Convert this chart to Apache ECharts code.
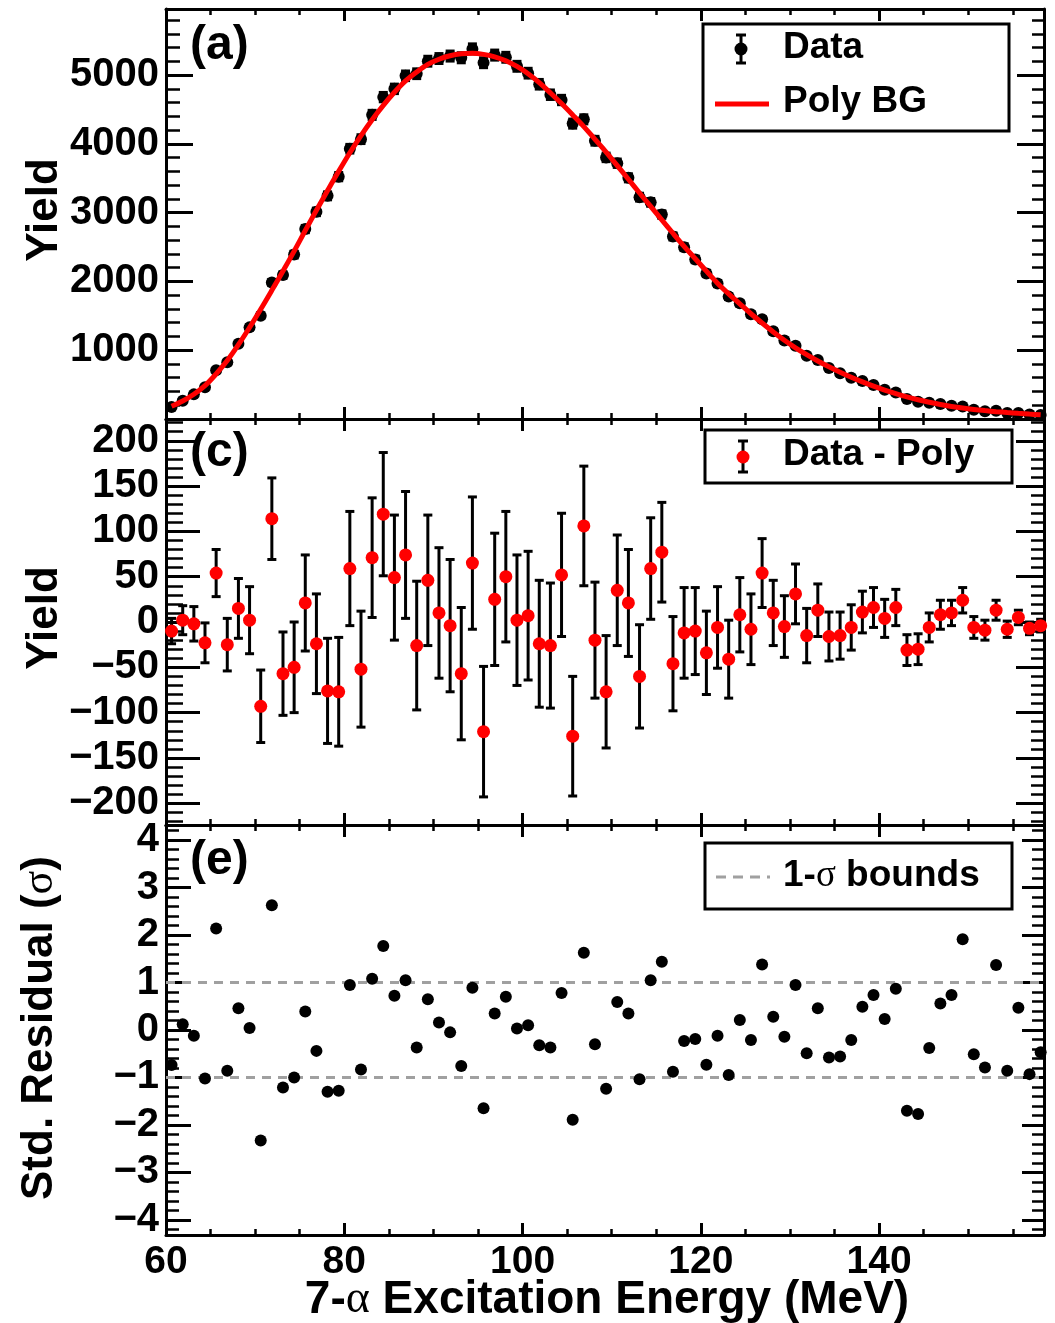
<!DOCTYPE html>
<html>
<head>
<meta charset="utf-8">
<script src="https://cdn.jsdelivr.net/npm/echarts@6/dist/echarts.min.js"></script>
<style>
  html, body { margin: 0; padding: 0; background: #fff; }
  #chart { width: 1055px; height: 1323px; }
</style>
</head>
<body>
<div id="chart"></div>
<script>
// Bin centres of the 7-alpha excitation-energy spectrum (MeV), 1.25 MeV bins
const energy = [
  60.625, 61.875, 63.125, 64.375, 65.625, 66.875, 68.125, 69.375, 70.625, 71.875,
  73.125, 74.375, 75.625, 76.875, 78.125, 79.375, 80.625, 81.875, 83.125, 84.375,
  85.625, 86.875, 88.125, 89.375, 90.625, 91.875, 93.125, 94.375, 95.625, 96.875,
  98.125, 99.375, 100.625, 101.875, 103.125, 104.375, 105.625, 106.875, 108.125, 109.375,
  110.625, 111.875, 113.125, 114.375, 115.625, 116.875, 118.125, 119.375, 120.625, 121.875,
  123.125, 124.375, 125.625, 126.875, 128.125, 129.375, 130.625, 131.875, 133.125, 134.375,
  135.625, 136.875, 138.125, 139.375, 140.625, 141.875, 143.125, 144.375, 145.625, 146.875,
  148.125, 149.375, 150.625, 151.875, 153.125, 154.375, 155.625, 156.875, 158.125
];

// Measured yield per bin
const yieldData = [
  175, 264, 358, 462, 709, 825, 1095, 1332, 1502, 1984,
  2093, 2390, 2761, 3011, 3244, 3523, 3929, 4068, 4421, 4679,
  4799, 4989, 5019, 5201, 5240, 5276, 5251, 5380, 5179, 5290,
  5258, 5127, 5027, 4866, 4714, 4637, 4294, 4356, 4045, 3803,
  3718, 3506, 3225, 3149, 2972, 2654, 2498, 2320, 2116, 1969,
  1779, 1683, 1522, 1449, 1275, 1140, 1066, 920, 856, 742,
  665, 601, 551, 494, 425, 385, 291, 250, 237, 219,
  193, 183, 133, 113, 120, 86, 87, 64, 57
];

// Polynomial background evaluated at the bin centres
const polyBG = [
  185, 262, 360, 485, 655, 850, 1080, 1330, 1595, 1870,
  2150, 2440, 2740, 3035, 3320, 3600, 3870, 4120, 4350, 4560,
  4750, 4915, 5045, 5155, 5230, 5280, 5308, 5315, 5300, 5265,
  5208, 5125, 5020, 4890, 4740, 4585, 4420, 4250, 4065, 3880,
  3683, 3485, 3285, 3090, 2895, 2700, 2510, 2330, 2150, 1975,
  1820, 1675, 1530, 1395, 1265, 1145, 1035, 935, 843, 758,
  680, 607, 540, 478, 421, 369, 322, 280, 243, 211,
  183, 159, 139, 122, 107, 94, 82, 71, 61
];

// Data minus polynomial background
const residual = [
  -10, 2, -2, -23, 54, -25, 15, 2, -93, 114,
  -57, -50, 21, -24, -76, -77, 59, -52, 71, 119,
  49, 74, -26, 46, 10, -4, -57, 65, -121, 25,
  50, 2, 7, -24, -26, 52, -126, 106, -20, -77,
  35, 21, -60, 59, 77, -46, -12, -10, -34, -6,
  -41, 8, -8, 54, 10, -5, 31, -15, 13, -16,
  -15, -6, 11, 16, 4, 16, -31, -30, -6, 8,
  10, 24, -6, -9, 13, -8, 5, -7, -4
];

// Statistical uncertainty of each bin
const yieldErr = [
  14, 16, 19, 22, 26, 29, 33, 37, 40, 45,
  46, 50, 53, 55, 58, 60, 63, 64, 66, 68,
  69, 70, 71, 72, 72, 73, 73, 73, 72, 73,
  72, 72, 71, 70, 69, 68, 66, 66, 64, 62,
  61, 59, 57, 56, 55, 52, 50, 48, 46, 45,
  43, 41, 39, 38, 36, 34, 33, 30, 29, 27,
  26, 25, 23, 22, 21, 20, 17, 17, 16, 16,
  14, 14, 12, 11, 11, 9, 8, 7, 7
];

// Standardised residuals (in units of sigma)
const stdResidual = [
  -0.74, 0.12, -0.12, -1.02, 2.14, -0.86, 0.46, 0.04, -2.33, 2.63,
  -1.21, -1.00, 0.39, -0.44, -1.30, -1.28, 0.95, -0.83, 1.08, 1.77,
  0.72, 1.05, -0.37, 0.65, 0.16, -0.05, -0.76, 0.89, -1.65, 0.35,
  0.70, 0.03, 0.10, -0.32, -0.37, 0.78, -1.89, 1.63, -0.30, -1.24,
  0.59, 0.35, -1.04, 1.05, 1.44, -0.88, -0.23, -0.19, -0.73, -0.12,
  -0.95, 0.21, -0.21, 1.38, 0.28, -0.14, 0.95, -0.49, 0.46, -0.58,
  -0.56, -0.21, 0.49, 0.74, 0.23, 0.87, -1.70, -1.77, -0.38, 0.56,
  0.74, 1.91, -0.51, -0.79, 1.37, -0.86, 0.47, -0.93, -0.47
];

const sigmaBounds = [1, -1];
const xRange = [60, 158.5];
const xTickLabels = [60, 80, 100, 120, 140];

const FONT = 'Liberation Sans';
const SERIF = 'Liberation Serif';
const MINUS = '\u2212';

const chart = echarts.init(document.getElementById('chart'), null, { renderer: 'canvas' });

function signed(v) {
  const s = String(Math.abs(Math.round(v * 1000) / 1000));
  return v < 0 ? MINUS + s : s;
}

const labelStyle = { color: '#000', fontFamily: FONT, fontWeight: 'bold', fontSize: 40 };

function xAxisPair(grid, withLabels) {
  const base = {
    type: 'value', gridIndex: grid, min: xRange[0], max: xRange[1], interval: 20,
    axisLine: { show: true, onZero: false, lineStyle: { color: '#000', width: 3 } },
    axisTick: { show: true, inside: true, length: 12, lineStyle: { color: '#000', width: 3 } },
    minorTick: { show: true, splitNumber: 4, length: 6, lineStyle: { color: '#000', width: 2.5 } },
    splitLine: { show: false }, minorSplitLine: { show: false }
  };
  return [
    Object.assign({}, base, {
      position: 'bottom',
      axisLabel: withLabels ? Object.assign({}, labelStyle, {
        fontSize: 39, margin: 8,
        formatter: v => xTickLabels.indexOf(v) >= 0 ? String(v) : ''
      }) : { show: false }
    }),
    Object.assign({}, base, { position: 'top', axisLabel: { show: false } })
  ];
}

function yAxisPair(grid, range, spacing, opts, fmt) {
  const base = {
    type: 'value', gridIndex: grid, min: range[0], max: range[1],
    axisLine: { show: true, onZero: false, lineStyle: { color: '#000', width: 3 } },
    minorTick: { show: true, splitNumber: 5, lineStyle: { color: '#000', width: 2.5 } },
    splitLine: { show: false }, minorSplitLine: { show: false }
  };
  Object.assign(base, spacing);
  return [
    Object.assign({}, base, {
      position: 'left',
      axisTick: { show: true, inside: true, length: opts.lMajor, lineStyle: { color: '#000', width: 3 } },
      minorTick: Object.assign({}, base.minorTick, { length: opts.lMinor }),
      axisLabel: Object.assign({}, labelStyle, { margin: 7, formatter: fmt })
    }),
    Object.assign({}, base, {
      position: 'right',
      axisTick: { show: true, inside: true, length: opts.rMajor, lineStyle: { color: '#000', width: 3 } },
      minorTick: Object.assign({}, base.minorTick, { length: opts.rMinor }),
      axisLabel: { show: false }
    })
  ];
}

function onStep(step, hideZero) {
  return v => {
    const r = v / step;
    if (Math.abs(r - Math.round(r)) > 1e-6) return '';
    if (hideZero && Math.abs(v) < 1e-9) return '';
    return signed(v);
  };
}

function pairs(yArr) { return energy.map((e, i) => [e, yArr[i]]); }

function errorBars(axisIdx, centre, err) {
  return {
    type: 'custom', xAxisIndex: axisIdx, yAxisIndex: axisIdx,
    data: energy.map((e, i) => [e, centre[i] - err[i], centre[i] + err[i]]),
    encode: { x: 0, y: [1, 2] },
    clip: true, silent: true, z: 2,
    renderItem: (params, api) => {
      const x = api.value(0);
      const lo = api.coord([x, api.value(1)]);
      const hi = api.coord([x, api.value(2)]);
      const st = { stroke: '#000', lineWidth: 3 };
      const cap = 4.5;
      return {
        type: 'group',
        children: [
          { type: 'line', shape: { x1: lo[0], y1: lo[1], x2: hi[0], y2: hi[1] }, style: st },
          { type: 'line', shape: { x1: lo[0] - cap, y1: lo[1], x2: lo[0] + cap, y2: lo[1] }, style: st },
          { type: 'line', shape: { x1: hi[0] - cap, y1: hi[1], x2: hi[0] + cap, y2: hi[1] }, style: st }
        ]
      };
    }
  };
}

const xa = [].concat(xAxisPair(0, false), xAxisPair(1, false), xAxisPair(2, true));
const ya = [].concat(
  yAxisPair(0, [0, 5960], { interval: 1000 }, { lMajor: 27, lMinor: 14, rMajor: 27, rMinor: 12 }, onStep(1000, true)),
  yAxisPair(1, [-224, 224], { splitNumber: 9 }, { lMajor: 34, lMinor: 17, rMajor: 28, rMinor: 13 }, onStep(50, false)),
  yAxisPair(2, [-4.32, 4.32], { splitNumber: 8 }, { lMajor: 25, lMinor: 13, rMajor: 22, rMinor: 12 }, onStep(1, false))
);
// bottom/left axes carry the series: x indices 0,2,4 and y indices 0,2,4
const series = [];
function addErr(panel, centre, err) {
  const s = errorBars(panel * 2, centre, err);
  s.yAxisIndex = panel * 2;
  series.push(s);
}
// (a) data with background fit
addErr(0, yieldData, yieldErr);
series.push({
  type: 'scatter', xAxisIndex: 0, yAxisIndex: 0, data: pairs(yieldData),
  symbol: 'circle', symbolSize: 12, itemStyle: { color: '#000', opacity: 1 }, z: 3, silent: true
});
series.push({
  type: 'line', xAxisIndex: 0, yAxisIndex: 0, data: pairs(polyBG),
  smooth: 0.35, showSymbol: false, lineStyle: { color: '#ff0000', width: 5 }, z: 4, silent: true
});
// (c) background-subtracted data
addErr(1, residual, yieldErr);
series.push({
  type: 'scatter', xAxisIndex: 2, yAxisIndex: 2, data: pairs(residual),
  symbol: 'circle', symbolSize: 13, itemStyle: { color: '#ff0000', opacity: 1 }, z: 3, silent: true
});
// (e) standardised residuals with 1-sigma bounds
sigmaBounds.forEach(b => {
  series.push({
    type: 'line', xAxisIndex: 4, yAxisIndex: 4, data: [[xRange[0], b], [xRange[1], b]],
    showSymbol: false, lineStyle: { color: '#a0a0a0', width: 3, type: [9, 7] }, z: 2, silent: true
  });
});
series.push({
  type: 'scatter', xAxisIndex: 4, yAxisIndex: 4, data: pairs(stdResidual),
  symbol: 'circle', symbolSize: 12, itemStyle: { color: '#000', opacity: 1 }, z: 3, silent: true
});

const txt = (x, y, text, extra) => ({
  type: 'text', x: x, y: y, z: 20, silent: true,
  style: Object.assign({ text: text, fill: '#000', fontFamily: FONT, fontWeight: 'bold', fontSize: 37,
    align: 'left', verticalAlign: 'middle' }, extra || {})
});
const sigmaRich = size => ({
  b: { fontFamily: FONT, fontWeight: 'bold', fontSize: size, fill: '#000' },
  g: { fontFamily: SERIF, fontWeight: 'normal', fontSize: size, fill: '#000' }
});
const box = (x, y, w, h) => ({
  type: 'rect', z: 15, silent: true, shape: { x: x, y: y, width: w, height: h },
  style: { fill: '#fff', stroke: '#000', lineWidth: 3 }
});
const seg = (x1, y1, x2, y2, style) => ({
  type: 'line', z: 18, silent: true, shape: { x1, y1, x2, y2 }, style: style
});

const graphic = [
  // panel tags
  txt(190, 46, '(a)', { fontSize: 48 }),
  txt(190, 453, '(c)', { fontSize: 48 }),
  txt(190, 861, '(e)', { fontSize: 48 }),
  // axis titles
  Object.assign(txt(45, 210, 'Yield', { fontSize: 44, align: 'center' }), { rotation: Math.PI / 2 }),
  Object.assign(txt(45, 618, 'Yield', { fontSize: 44, align: 'center' }), { rotation: Math.PI / 2 }),
  Object.assign(txt(40, 1028, '{b|Std. Residual (}{g|\u03c3}{b|)}',
    { fontSize: 44, align: 'center', rich: sigmaRich(44) }), { rotation: Math.PI / 2 }),
  txt(607, 1300, '{b|7-}{g|\u03b1}{b| Excitation Energy (MeV)}',
    { fontSize: 46, align: 'center', rich: sigmaRich(46) }),
  // legend (a)
  box(703, 24, 306, 107),
  seg(741, 35, 741, 63, { stroke: '#000', lineWidth: 3 }),
  seg(736, 35, 746, 35, { stroke: '#000', lineWidth: 3 }),
  seg(736, 63, 746, 63, { stroke: '#000', lineWidth: 3 }),
  { type: 'circle', z: 19, silent: true, shape: { cx: 741, cy: 49, r: 6.5 }, style: { fill: '#000' } },
  txt(783, 48, 'Data'),
  seg(715, 104, 769, 104, { stroke: '#ff0000', lineWidth: 5 }),
  txt(783, 102, 'Poly BG'),
  // legend (c)
  box(705, 430, 307, 53),
  seg(743, 441, 743, 472, { stroke: '#000', lineWidth: 3 }),
  seg(738, 441, 748, 441, { stroke: '#000', lineWidth: 3 }),
  seg(738, 472, 748, 472, { stroke: '#000', lineWidth: 3 }),
  { type: 'circle', z: 19, silent: true, shape: { cx: 743, cy: 457, r: 6.5 }, style: { fill: '#ff0000' } },
  txt(783, 455, 'Data - Poly'),
  // legend (e)
  box(705, 843, 307, 66),
  seg(716, 877, 770, 877, { stroke: '#a0a0a0', lineWidth: 3, lineDash: [10, 7] }),
  txt(783, 876, '{b|1-}{g|\u03c3}{b| bounds}', { rich: sigmaRich(37) })
];

chart.setOption({
  animation: false,
  backgroundColor: '#fff',
  grid: [
    { left: 166, right: 11, top: 9, height: 410 },
    { left: 166, right: 11, top: 419, height: 406 },
    { left: 166, right: 11, top: 825, height: 410 }
  ],
  xAxis: xa,
  yAxis: ya,
  series: series,
  graphic: graphic
});
</script>
</body>
</html>
